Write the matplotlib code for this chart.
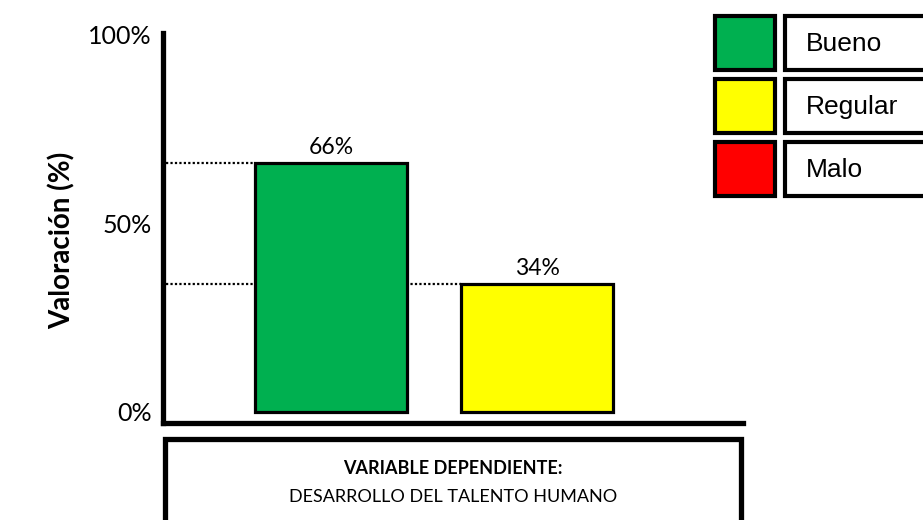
import matplotlib
matplotlib.use("Agg")
import matplotlib.pyplot as plt
from matplotlib.patches import Rectangle

categories = ["Bueno", "Regular"]
values = [66, 34]
bar_colors = ["#00B050", "#FFFF00"]
legend_labels = ["Bueno", "Regular", "Malo"]
legend_colors = ["#00B050", "#FFFF00", "#FF0000"]
ytick_vals = [0, 50, 100]
ytick_labels = ["0%", "50%", "100%"]
ylabel = "Valoración (%)"
box_title = "VARIABLE DEPENDIENTE:"
box_text = "DESARROLLO DEL TALENTO HUMANO"

W, H = 923, 520
fig = plt.figure(figsize=(W / 100, H / 100), dpi=100)
fig.patch.set_facecolor("white")

def fx(px):
    return px / W

def fy(py):
    return 1 - py / H

ax = fig.add_axes([fx(163), fy(423), fx(743) - fx(163), fy(33) - fy(423)])
x = list(range(len(values)))
ax.bar(x, values, width=0.738, color=bar_colors, edgecolor="black", linewidth=2.3, zorder=3)
ax.set_xlim(-0.816, 2.0)
ax.set_ylim(-3, 100.5)
for i, v in enumerate(values):
    ax.text(i, v + 1.3, f"{v}%", ha="center", va="bottom", fontsize=16.5, family="Lato")
    ax.plot([-0.8, i - 0.369], [v, v], color="black", linestyle=(0, (1, 1)), linewidth=1.6, zorder=2)

ax.set_yticks(ytick_vals)
ax.set_yticklabels(ytick_labels, fontsize=18, family="Lato")
ax.tick_params(axis="y", length=0, pad=8)
ax.set_xticks([])
for s in ["top", "right"]:
    ax.spines[s].set_visible(False)
for s in ["left", "bottom"]:
    ax.spines[s].set_linewidth(3.8)
    ax.spines[s].set_capstyle("projecting")

fig.text(fx(62), fy(240), ylabel, rotation=90, ha="center", va="center",
         fontsize=20, fontweight="bold", family="Lato")

# bottom box
fig.patches.append(Rectangle((fx(165), fy(540)), fx(741) - fx(165), fy(439) - fy(540),
                             transform=fig.transFigure, facecolor="white", edgecolor="black",
                             linewidth=3.8))
fig.text(fx(453), fy(468), box_title, ha="center", va="center", fontsize=13,
         fontweight="bold", family="Lato")
fig.text(fx(453), fy(497), box_text, ha="center", va="center", fontsize=13, family="Lato")

# legend
row_tops = [16, 79, 142]
for top, lab, col in zip(row_tops, legend_labels, legend_colors):
    fig.patches.append(Rectangle((fx(715), fy(top + 54)), fx(775) - fx(715), fy(top) - fy(top + 54),
                                 transform=fig.transFigure, facecolor=col, edgecolor="black",
                                 linewidth=3))
    fig.patches.append(Rectangle((fx(785), fy(top + 54)), fx(940) - fx(785), fy(top) - fy(top + 54),
                                 transform=fig.transFigure, facecolor="white", edgecolor="black",
                                 linewidth=3))
    fig.text(fx(806), fy(top + 28), lab, ha="left", va="center", fontsize=19,
             family="Liberation Sans")

fig.savefig("out.png", dpi=100, facecolor="white")
